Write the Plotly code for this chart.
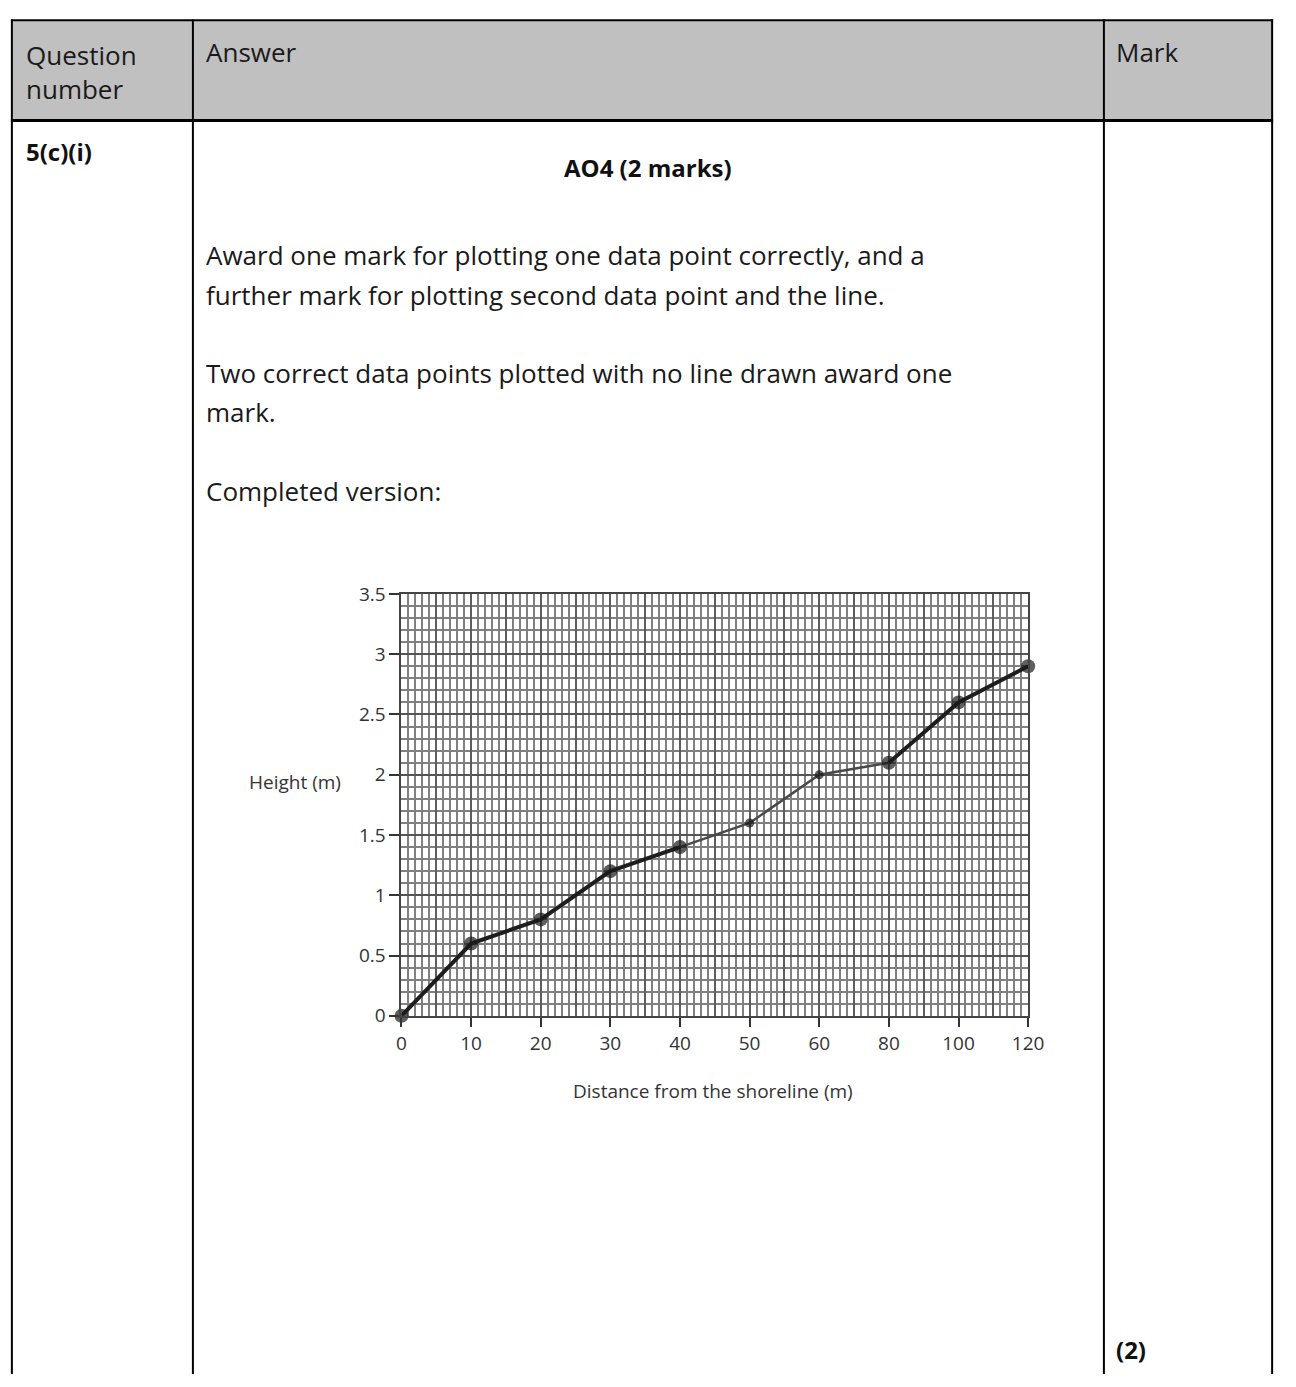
import plotly.graph_objects as go

# ---------------- data ----------------
distance_labels = ["0", "10", "20", "30", "40", "50", "60", "80", "100", "120"]
height_m = [0, 0.6, 0.8, 1.2, 1.4, 1.6, 2.0, 2.1, 2.6, 2.9]
y_ticks = [0, 0.5, 1, 1.5, 2, 2.5, 3, 3.5]
y_tick_labels = ["0", "0.5", "1", "1.5", "2", "2.5", "3", "3.5"]

header_texts = ["Question<br>number", "Answer", "Mark"]
paragraph_lines = [
    "Award one mark for plotting one data point correctly, and a",
    "further mark for plotting second data point and the line.",
    "Two correct data points plotted with no line drawn award one",
    "mark.",
    "Completed version:",
]

FW, FH = 1296, 1387
def px(x):
    return x / FW
def py(y):
    return 1 - y / FH

idx = list(range(len(distance_labels)))

fig = go.Figure()

segments = [(0, 4, "#1e1e1e", 4.0), (4, 7, "#4a4a4a", 2.5), (7, 9, "#1e1e1e", 4.0)]
for a, b, col, w in segments:
    fig.add_trace(go.Scatter(
        x=idx[a:b + 1], y=height_m[a:b + 1], mode="lines",
        line=dict(color=col, width=w), hoverinfo="skip", showlegend=False,
        cliponaxis=False))

small_pts = {"50", "60"}
sizes = [9 if d in small_pts else 14 for d in distance_labels]
fig.add_trace(go.Scatter(
    x=idx, y=height_m, mode="markers",
    marker=dict(color="#1a1a1a", size=sizes, line=dict(width=0)),
    showlegend=False, cliponaxis=False))

fig.add_trace(go.Scatter(x=[idx[0]], y=[height_m[0]], xaxis="x2", mode="markers",
                         marker=dict(opacity=0), showlegend=False, hoverinfo="skip"))

x_dom = [px(403), px(1040)]
y_dom = [py(1022), py(592)]
CF = "Open Sans"
CFS = 19

fig.update_layout(
    width=FW, height=FH, margin=dict(l=0, r=0, t=0, b=0),
    paper_bgcolor="white", plot_bgcolor="white",
    xaxis=dict(
        domain=x_dom, range=[idx[0], idx[-1]], tickvals=idx, ticktext=distance_labels,
        ticks="outside", ticklen=9, tickwidth=1.5, tickcolor="#333",
        showgrid=True, gridcolor="#555", gridwidth=2,
        minor=dict(dtick=0.1, showgrid=True, gridcolor="#808080", gridwidth=1.6),
        showline=True, linecolor="#444", linewidth=2, mirror=True,
        zeroline=False,
        tickfont=dict(family=CF, size=CFS, color="#333"),
        fixedrange=True,
    ),
    xaxis2=dict(
        overlaying="x", matches="x", dtick=0.5, tick0=0,
        showgrid=True, gridcolor="#5e5e5e", gridwidth=1.8,
        showticklabels=False, ticks="", showline=False, zeroline=False,
    ),
    yaxis=dict(
        domain=y_dom, range=[y_ticks[0], y_ticks[-1]], tickvals=y_ticks, ticktext=y_tick_labels,
        ticks="outside", ticklen=10, tickwidth=1.5, tickcolor="#333",
        showgrid=True, gridcolor="#555", gridwidth=2,
        minor=dict(dtick=0.1, showgrid=True, gridcolor="#808080", gridwidth=1.6),
        showline=True, linecolor="#444", linewidth=2, mirror=True,
        zeroline=False,
        tickfont=dict(family=CF, size=CFS, color="#333"),
        fixedrange=True,
    ),
)

# ---------------- table frame ----------------
shapes = []
shapes.append(dict(type="rect", xref="paper", yref="paper",
                   x0=px(8), x1=px(1288), y0=py(109), y1=py(8),
                   fillcolor="#c0c0c0", line=dict(width=0), layer="below"))
def hline(y, x0, x1, w):
    shapes.append(dict(type="line", xref="paper", yref="paper", x0=px(x0), x1=px(x1),
                       y0=py(y), y1=py(y), line=dict(color="black", width=w)))
def vline(x, y0, y1, w):
    shapes.append(dict(type="line", xref="paper", yref="paper", x0=px(x), x1=px(x),
                       y0=py(y0), y1=py(y1), line=dict(color="black", width=w)))
hline(7.5, 6, 1289, 2)
hline(109.5, 6, 1289, 3)
for xv in [7, 191, 1117, 1288]:
    vline(xv, 6.5, 1387, 2)
fig.update_layout(shapes=shapes)

# ---------------- text ----------------
ann = []
TF = "Open Sans"
ann.append(dict(x=px(19), y=py(60), text=header_texts[0], xanchor="left", yanchor="middle",
                align="left", font=dict(family=TF, size=26, color="#1a1a1a")))
ann.append(dict(x=px(202), y=py(40), text=header_texts[1], xanchor="left", yanchor="middle",
                font=dict(family=TF, size=26, color="#1a1a1a")))
ann.append(dict(x=px(1127), y=py(40), text=header_texts[2], xanchor="left", yanchor="middle",
                font=dict(family=TF, size=26, color="#1a1a1a")))
ann.append(dict(x=px(19), y=py(141), text="<b>5(c)(i)</b>", xanchor="left", yanchor="middle",
                font=dict(family=TF, size=24, color="#111")))
ann.append(dict(x=px(654), y=py(157), text="<b>AO4 (2 marks)</b>", xanchor="center", yanchor="middle",
                font=dict(family=TF, size=24, color="#111")))
line_y = [247, 287, 367, 407, 487]
for t, yy in zip(paragraph_lines, line_y):
    ann.append(dict(x=px(202), y=py(yy), text=t, xanchor="left", yanchor="middle",
                    font=dict(family=TF, size=26, color="#1a1a1a")))
ann.append(dict(x=px(1127), y=py(1362), text="<b>(2)</b>", xanchor="left", yanchor="middle",
                font=dict(family=TF, size=24, color="#111")))
ann.append(dict(x=px(295), y=py(784), text="Height (m)", xanchor="center", yanchor="middle",
                font=dict(family=CF, size=CFS, color="#333")))
ann.append(dict(x=px(720), y=py(1099), text="Distance from the shoreline (m)", xanchor="center",
                yanchor="middle", font=dict(family=CF, size=CFS, color="#333")))
for a in ann:
    a.update(xref="paper", yref="paper", showarrow=False)
fig.update_layout(annotations=ann)

fig.write_html(
    "out.html",
    config={"displayModeBar": False},
    post_script="document.body.style.margin='0';document.body.style.overflow='hidden';",
)
